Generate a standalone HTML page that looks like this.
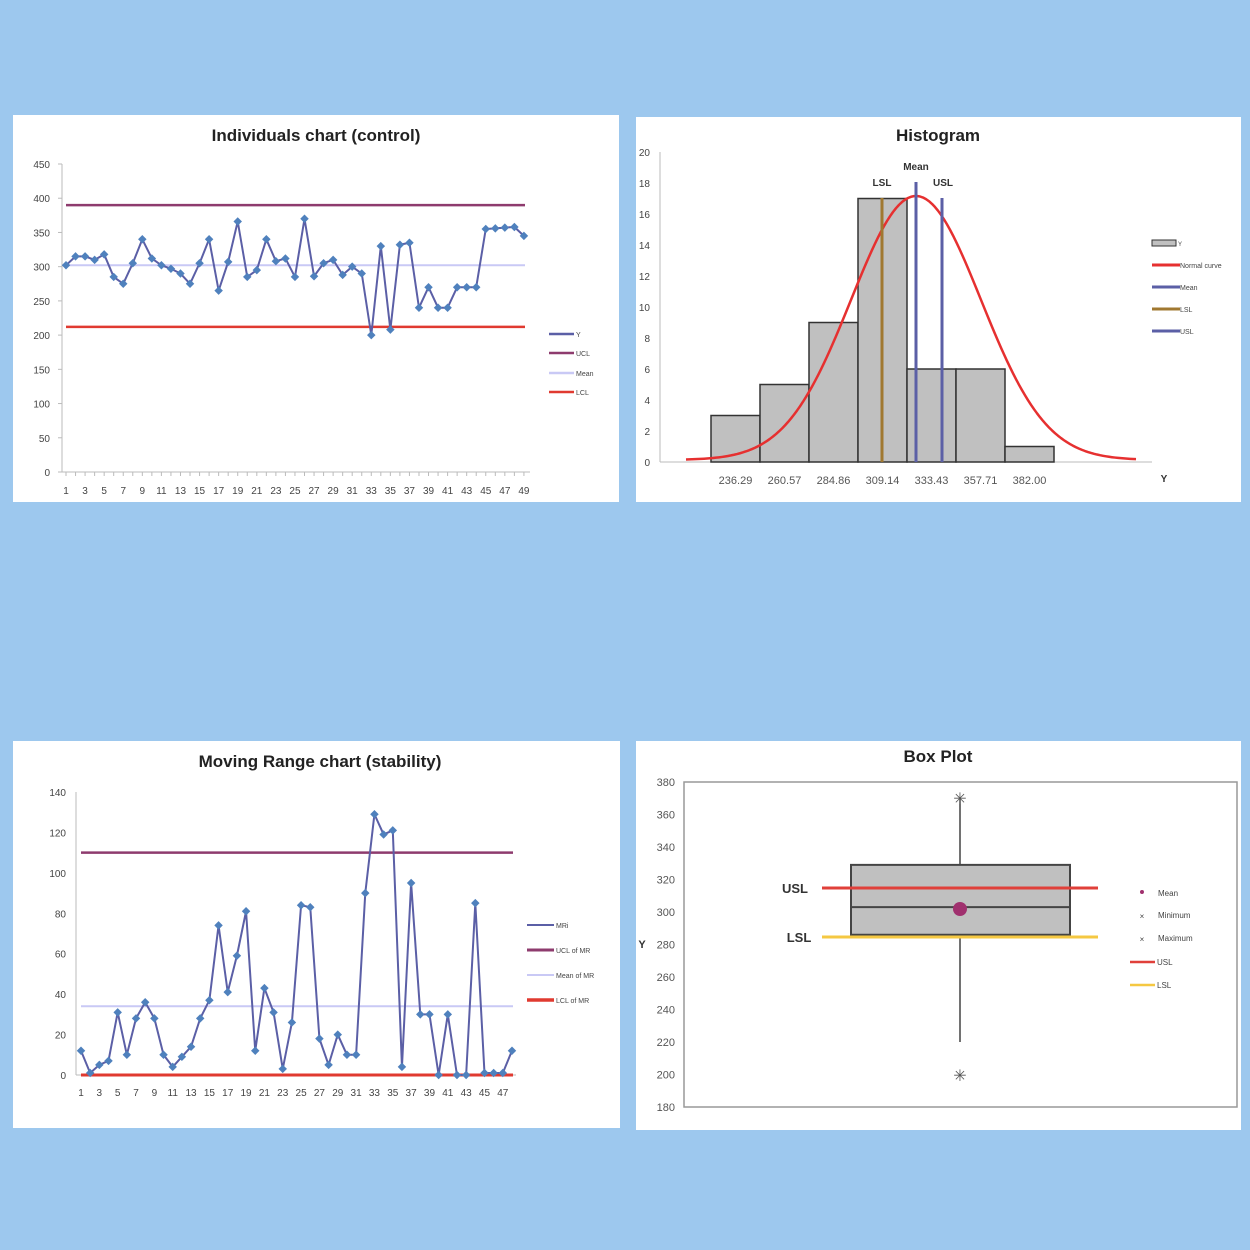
<!DOCTYPE html>
<html><head><meta charset="utf-8"><style>
body{margin:0;background:#9dc8ee;}
svg{display:block;font-family:"Liberation Sans",sans-serif;}
</style></head><body>
<svg id="s" width="1250" height="1250" viewBox="0 0 1250 1250">
<rect x="0" y="0" width="1250" height="1250" fill="#9dc8ee"/>
<rect x="13" y="115" width="606" height="387" fill="#fff"/>
<rect x="636" y="117" width="605" height="385" fill="#fff"/>
<rect x="13" y="741" width="607" height="387" fill="#fff"/>
<rect x="636" y="741" width="605" height="389" fill="#fff"/>
<g id="g"></g>
</svg>
<script>
const g=document.getElementById('g');let h='';
function T(x,y,t,s,a,w,c){h+=`<text x="${x}" y="${y}" font-size="${s}" text-anchor="${a||'middle'}" font-weight="${w||'normal'}" fill="${c||'#444'}">${t}</text>`;}
function L(x1,y1,x2,y2,c,w){h+=`<line x1="${x1}" y1="${y1}" x2="${x2}" y2="${y2}" stroke="${c}" stroke-width="${w}"/>`;}
function P(pts,c,w,m){h+=`<polyline points="${pts.map(p=>p.join(',')).join(' ')}" fill="none" stroke="${c}" stroke-width="${w}" stroke-linejoin="round"/>`;if(m)pts.forEach(p=>h+=`<rect x="${p[0]-3}" y="${p[1]-3}" width="6" height="6" fill="#4f81bd" transform="rotate(45 ${p[0]} ${p[1]})"/>`);}
// Individuals
T(316,141,'Individuals chart (control)',17,'middle','bold','#222');
const Y=[302,315,315,310,318,285,275,305,340,312,302,297,290,275,305,340,265,307,366,285,295,340,308,312,285,370,286,305,310,288,300,290,200,330,208,332,335,240,270,240,240,270,270,270,355,356,357,358,345];
const iy=v=>472-v*308/450, ix=i=>66+i*9.54;
L(62,164,62,472,'#bbb',1);L(62,472,530,472,'#bbb',1);
for(let v=0;v<=450;v+=50){T(50,iy(v)+4,v,10,'end');L(58,iy(v),62,iy(v),'#bbb',1);}
for(let i=0;i<49;i++){L(ix(i),472,ix(i),476,'#bbb',1);if(i%2==0)T(ix(i),494,i+1,10);}
L(66,iy(390),525,iy(390),'#8e3b6e',2.5);L(66,iy(302),525,iy(302),'#c9c9f5',2);L(66,iy(212),525,iy(212),'#e03a30',2.5);
P(Y.map((v,i)=>[ix(i),iy(v)]),'#5b5fa6',2,1);
[['Y','#5b5fa6',334],['UCL','#8e3b6e',353],['Mean','#c9c9f5',373],['LCL','#e03a30',392]].forEach(a=>{L(549,a[2],574,a[2],a[1],2.5);T(576,a[2]+3,a[0],7,'start');});
// MR
T(320,767,'Moving Range chart (stability)',17,'middle','bold','#222');
const M=[12,1,5,7,31,10,28,36,28,10,4,9,14,28,37,74,41,59,81,12,43,31,3,26,84,83,18,5,20,10,10,90,129,119,121,4,95,30,30,0,30,0,0,85,1,1,1,12];
const my=v=>1075-v*283/140, mx=i=>81+i*9.17;
L(76,792,76,1075,'#bbb',1);L(76,1075,516,1075,'#bbb',1);
for(let v=0;v<=140;v+=20){T(66,my(v)+4,v,10,'end');}
for(let i=0;i<48;i++){if(i%2==0)T(mx(i),1096,i+1,10);}
L(81,my(110),513,my(110),'#8e3b6e',2.5);L(81,my(34),513,my(34),'#c9c9f5',2);L(81,1075,513,1075,'#e03a30',3);
P(M.map((v,i)=>[mx(i),my(v)]),'#5b5fa6',2,1);
[['MRi','#5b5fa6',925,2],['UCL of MR','#8e3b6e',950,3],['Mean of MR','#c9c9f5',975,2],['LCL of MR','#e03a30',1000,3.5]].forEach(a=>{L(527,a[2],554,a[2],a[1],a[3]);T(556,a[2]+3,a[0],7,'start');});
// Histogram
T(938,141,'Histogram',17,'middle','bold','#222');
const hy=v=>462-v*15.5;
L(660,152,660,462,'#bbb',1);L(660,462,1152,462,'#bbb',1);
for(let v=0;v<=20;v+=2)T(650,hy(v)+4,v,10,'end');
const B=[3,5,9,17,6,6,1],lab=['236.29','260.57','284.86','309.14','333.43','357.71','382.00'];
B.forEach((b,i)=>{const x=711+i*49;h+=`<rect x="${x}" y="${hy(b)}" width="49" height="${b*15.5}" fill="#c0c0c0" stroke="#333" stroke-width="1.5"/>`;T(x+24.5,484,lab[i],11,'middle','normal','#555');});
T(1164,482,'Y',10,'middle','bold','#333');
let c=[];for(let x=686;x<=1137;x+=3)c.push([x,462-264*Math.exp(-((x-916)**2)/(2*65*65))-2]);
P(c,'#e63030',2.5,0);
L(882,462,882,198,'#a07830',3);L(916,462,916,182,'#5b5fa6',3);L(942,462,942,198,'#5b5fa6',3);
T(916,170,'Mean',10,'middle','bold','#333');T(882,186,'LSL',10,'middle','bold','#333');T(943,186,'USL',10,'middle','bold','#333');
h+=`<rect x="1152" y="240" width="24" height="6" fill="#c0c0c0" stroke="#333"/>`;T(1178,246,'Y',6,'start');
[['Normal curve','#e63030',265],['Mean','#5b5fa6',287],['LSL','#a07830',309],['USL','#5b5fa6',331]].forEach(a=>{L(1152,a[2],1180,a[2],a[1],3);T(1180,a[2]+3,a[0],7,'start');});
// Box plot
T(938,762,'Box Plot',17,'middle','bold','#222');
const by=v=>782+(380-v)*1.625;
h+=`<rect x="684" y="782" width="553" height="325" fill="none" stroke="#999" stroke-width="1.5"/>`;
for(let v=180;v<=380;v+=20)T(675,by(v)+4,v,11,'end','normal','#555');
T(642,948,'Y',11,'middle','bold','#333');
L(960,by(370),960,by(220),'#444',1.5);
h+=`<rect x="851" y="${by(329)}" width="219" height="${by(286)-by(329)}" fill="#c0c0c0" stroke="#444" stroke-width="2"/>`;
L(851,by(303),1070,by(303),'#444',2);
L(822,888,1098,888,'#e0403a',3);L(822,937,1098,937,'#f5c842',3);
h+=`<circle cx="960" cy="909" r="7" fill="#a0306e"/>`;
T(960,804,'✳',16,'middle','normal','#555');T(960,1081,'✳',16,'middle','normal','#555');
T(795,893,'USL',13,'middle','bold','#333');T(799,942,'LSL',13,'middle','bold','#333');
h+=`<circle cx="1142" cy="892" r="2" fill="#a0306e"/>`;
T(1158,896,'Mean',8,'start');T(1142,919,'×',8);T(1158,918,'Minimum',8,'start');T(1142,942,'×',8);T(1158,941,'Maximum',8,'start');
L(1130,962,1155,962,'#e0403a',2.5);T(1157,965,'USL',8,'start');L(1130,985,1155,985,'#f5c842',2.5);T(1157,988,'LSL',8,'start');
g.innerHTML=h;
</script>
</body></html>
